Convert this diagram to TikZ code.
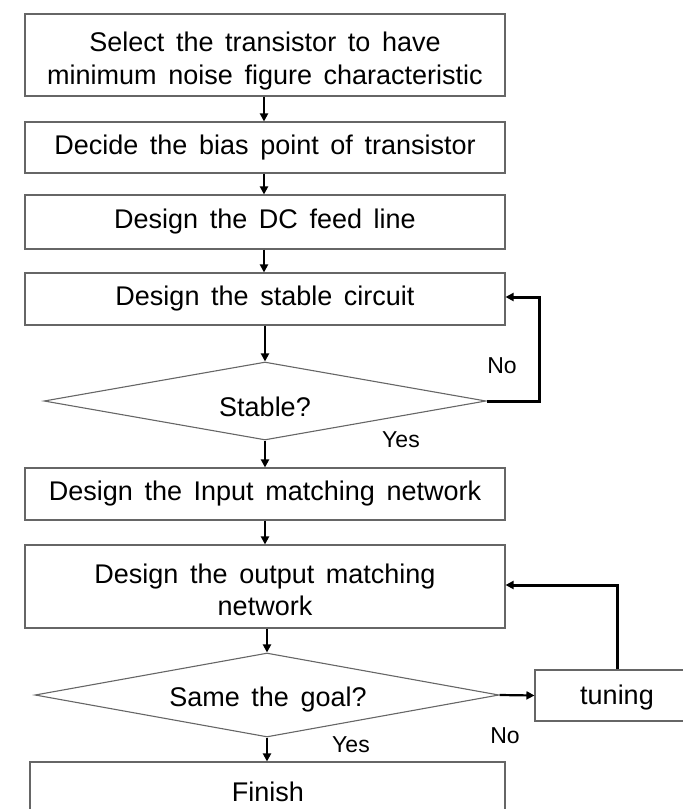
\documentclass[tikz,border=0pt]{standalone}
\usepackage{fontspec}
\setmainfont{Liberation Sans}[WordSpace=1.55]
\usetikzlibrary{shapes.geometric,arrows.meta}
\begin{document}
\begin{tikzpicture}[x=1pt,y=-1pt,
  every node/.style={font=\fontsize{27}{33}\selectfont, inner sep=0pt},
  stepbox/.style={draw=black!60, line width=1.1pt, rectangle, align=center},
  decision/.style={draw=black!60, line width=1.1pt, diamond, aspect=1},
  flow/.style={line width=2.2pt, -{Triangle[length=8pt,width=8pt]}},
  loopline/.style={line width=3pt, -{Triangle[length=8pt,width=8pt]}},
  tag/.style={font=\fontsize{23}{26}\selectfont}]
\useasboundingbox (0,0) rectangle (683,809);
\clip (0,0) rectangle (683,809);

% process boxes
\node[stepbox, minimum width=480pt, minimum height=82pt] (sel) at (265,55) {};
\node[align=center] (selt) at (265,61)
  {Select the transistor to have\\ minimum noise figure characteristic};
\node[stepbox, minimum width=480pt, minimum height=51pt] (bias) at (265,147.5)
  {Decide the bias point of transistor};
\node[stepbox, minimum width=480pt, minimum height=54pt] (dc) at (265,222)
  {Design the DC feed line};
\node[stepbox, minimum width=480pt, minimum height=52pt] (stab) at (265,299)
  {Design the stable circuit};
\node[decision, minimum width=442pt, minimum height=78pt] (q1) at (265,401) {};
\node (q1t) at (265,407) {Stable?};
\node[stepbox, minimum width=480pt, minimum height=52pt] (inp) at (265,494)
  {Design the Input matching network};
\node[stepbox, minimum width=480pt, minimum height=83pt] (outp) at (265,586.5) {};
\node[align=center, font=\fontsize{27}{32}\selectfont] (outpt) at (265,590)
  {Design the output matching\\ network};
\node[decision, minimum width=464pt, minimum height=84pt] (q2) at (267,695) {};
\node (q2t) at (268,700) {Same the goal?};
\node[stepbox, minimum width=164pt, minimum height=51pt] (tun) at (617,695.5) {};
\node (tunt) at (617,698) {tuning};
\node[stepbox, minimum width=475pt, minimum height=90pt] (fin) at (267.5,807) {};
\node (fint) at (268,792) {Finish};

% labels on the branches
\node[tag] (no1) at (502,366) {No};
\node[tag] (yes1) at (401,440) {Yes};
\node[tag] (no2) at (505,736) {No};
\node[tag] (yes2) at (351,745) {Yes};

% main flow
\draw[flow] (sel.south -| 264,0) -- (bias.north -| 264,0);
\draw[flow] (bias.south -| 264,0) -- (dc.north -| 264,0);
\draw[flow] (dc.south -| 264,0) -- (stab.north -| 264,0);
\draw[flow] (stab.south -| 265,0) -- (q1.north);
\draw[flow] (q1.south) -- (inp.north -| 265,0);
\draw[flow] (inp.south -| 265,0) -- (outp.north -| 265,0);
\draw[flow] (outp.south -| 267,0) -- (q2.north);
\draw[flow] (q2.south) -- (fin.north -| 267,0);
\draw[flow] (q2.east) -- (tun.west);

% feedback loops
\coordinate (k1) at (539,297);
\draw[loopline] (q1.east) -| (k1) -- (stab.east |- k1);
\coordinate (k2) at (617,585);
\draw[loopline] (tun.north) -- (k2) -- (outp.east |- k2);
\end{tikzpicture}
\end{document}
